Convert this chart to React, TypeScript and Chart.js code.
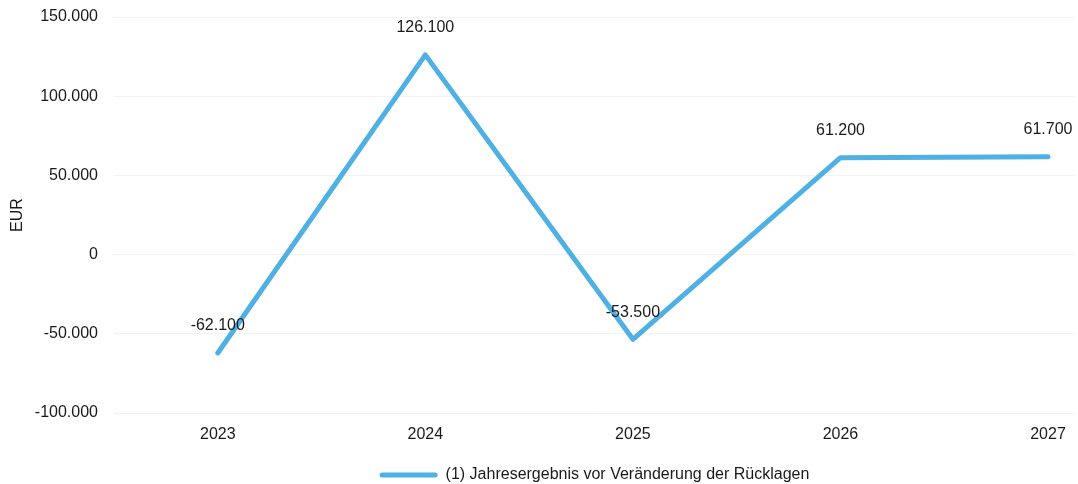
import React, { useEffect, useRef } from "react";
import { Chart, registerables } from "chart.js";

Chart.register(...registerables);

const years = [2023, 2024, 2025, 2026, 2027];
const values = [-62100, 126100, -53500, 61200, 61700];
const seriesLabel = "(1) Jahresergebnis vor Veränderung der Rücklagen";
const yAxisTitle = "EUR";
const yMin = -100000;
const yMax = 150000;
const yStep = 50000;

const LINE_COLOR = "#4fb0e4";
const FONT = "'Liberation Sans', Arial, sans-serif";

function formatDE(v: number): string {
  const neg = v < 0;
  const s = Math.abs(Math.round(v)).toString().replace(/\B(?=(\d{3})+(?!\d))/g, ".");
  return (neg ? "-" : "") + s;
}

const dataLabelPlugin = {
  id: "dataLabels",
  afterDatasetsDraw(chart: any) {
    const ctx = chart.ctx;
    ctx.save();
    ctx.font = `16px ${FONT}`;
    ctx.fillStyle = "#1a1a1a";
    ctx.textAlign = "center";
    ctx.textBaseline = "middle";
    chart.data.datasets.forEach((ds: any, di: number) => {
      const meta = chart.getDatasetMeta(di);
      meta.data.forEach((pt: any, i: number) => {
        const v = ds.data[i].y;
        ctx.fillText(formatDE(v), pt.x, pt.y - 27);
      });
    });
    ctx.restore();
  },
};

export default function App() {
  const canvasRef = useRef<HTMLCanvasElement | null>(null);

  useEffect(() => {
    if (!canvasRef.current) return;
    const chart = new Chart(canvasRef.current, {
      type: "line",
      data: {
        datasets: [
          {
            label: seriesLabel,
            data: years.map((y, i) => ({ x: y, y: values[i] })),
            borderColor: LINE_COLOR,
            backgroundColor: LINE_COLOR,
            borderWidth: 5,
            borderCapStyle: "round",
            borderJoinStyle: "round",
            pointRadius: 0,
            pointHoverRadius: 0,
            tension: 0,
            fill: false,
          },
        ],
      },
      options: {
        responsive: false,
        animation: false,
        layout: { padding: { top: 17, right: 3, left: 0, bottom: -9 } },
        plugins: {
          tooltip: { enabled: false },
          legend: {
            position: "bottom",
            fullSize: false,
            labels: {
              font: { size: 16, family: FONT },
              color: "#1a1a1a",
              boxWidth: 58,
              boxHeight: 5,
              padding: 3,
              useBorderRadius: true,
              borderRadius: 2.5,
              generateLabels: (chart: any) => {
                const items = Chart.defaults.plugins.legend.labels.generateLabels(chart);
                return items.map((it: any) => ({ ...it, lineWidth: 0, fillStyle: LINE_COLOR }));
              },
            },
          },
        },
        scales: {
          x: {
            type: "linear",
            min: 2022.5,
            max: 2027.13,
            grid: { display: false, drawTicks: false },
            border: { display: false },
            afterBuildTicks: (scale: any) => {
              scale.ticks = years.map((y) => ({ value: y }));
            },
            afterFit: (scale: any) => {
              scale.height = 51;
            },
            ticks: {
              padding: 12,
              autoSkip: false,
              maxRotation: 0,
              font: { size: 16, family: FONT },
              color: "#1a1a1a",
              callback: (v: any) => String(v),
            },
          },
          y: {
            min: yMin,
            max: yMax,
            grid: {
              color: "#f2f2f2",
              drawTicks: true,
              tickLength: 13,
              tickColor: "rgba(0,0,0,0)",
              lineWidth: 1,
            },
            border: { display: false },
            afterFit: (scale: any) => {
              scale.width = 114;
            },
            title: {
              display: true,
              text: yAxisTitle,
              font: { size: 16, family: FONT },
              color: "#1a1a1a",
              padding: { top: 8, bottom: 4 },
            },
            ticks: {
              stepSize: yStep,
              padding: 3,
              font: { size: 16, family: FONT },
              color: "#1a1a1a",
              callback: (v: any) => formatDE(Number(v)),
            },
          },
        },
      },
      plugins: [dataLabelPlugin],
    } as any);
    return () => chart.destroy();
  }, []);

  return (
    <div style={{ position: "fixed", left: 0, top: 0, width: 1078, height: 484, background: "#fff" }}>
      <canvas ref={canvasRef} width={1078} height={484} style={{ display: "block" }} />
    </div>
  );
}
